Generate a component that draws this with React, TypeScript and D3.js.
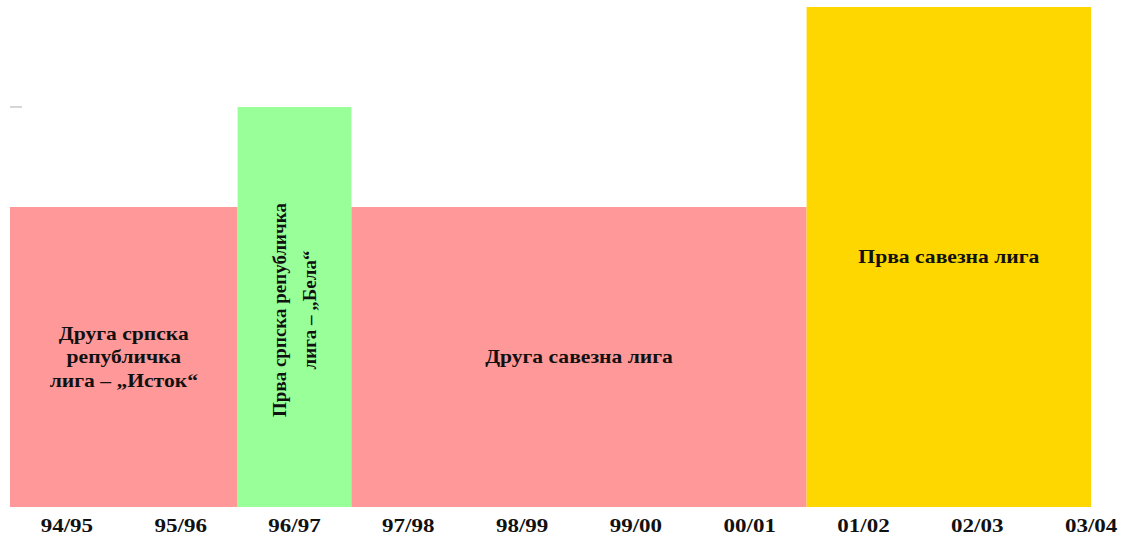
import React, { useEffect, useRef } from 'react';
import { select, scaleLinear } from 'd3';

const seasons = ['94/95', '95/96', '96/97', '97/98', '98/99', '99/00', '00/01', '01/02', '02/03', '03/04'];
const leagueNames = [
  ['Друга српска', 'републичка', 'лига – „Исток“'],
  ['Прва српска републичка', 'лига – „Бела“'],
  ['Друга савезна лига'],
  ['Прва савезна лига'],
];
const leagueStart = [0, 2, 3, 7];
const leagueEnd = [2, 3, 7, 9.5];
const leagueLevel = [3, 4, 3, 5];
const leagueColor = ['#ff9999', '#99ff99', '#ff9999', '#ffd700'];
const verticalLabel = [false, true, false, false];

const serif = '"Liberation Serif", "Times New Roman", serif';

const renderChart = (svgNode) => {
  select(svgNode).selectAll('*').remove();
  const svg = select(svgNode);
  const width = 1144;
  const height = 540;
  const margin = { top: 7, right: 0, bottom: 33, left: 10 };
  const bandW = 113.8;

  const x = scaleLinear().domain([0, seasons.length]).range([margin.left, margin.left + bandW * seasons.length]);
  const y = scaleLinear().domain([0, 5]).range([height - margin.bottom, margin.top]);

  svg.append('rect').attr('width', width).attr('height', height).attr('fill', '#ffffff');

  // faint tick left over at the top-left
  svg.append('line')
    .attr('x1', x(0)).attr('x2', x(0) + 12)
    .attr('y1', y(4)).attr('y2', y(4))
    .attr('stroke', '#c8c8c8').attr('stroke-width', 1.5);

  const bars = svg.append('g');
  leagueNames.forEach((names, i) => {
    bars.append('rect')
      .attr('x', x(leagueStart[i]))
      .attr('y', y(leagueLevel[i]))
      .attr('width', x(leagueEnd[i]) - x(leagueStart[i]))
      .attr('height', y(0) - y(leagueLevel[i]))
      .attr('fill', leagueColor[i]);

    const cx = (x(leagueStart[i]) + x(leagueEnd[i])) / 2;
    const cy = y(leagueLevel[i] / 2);
    const vertical = verticalLabel[i];
    const step = vertical ? 30 : 23.5;
    const t = bars.append('text')
      .attr('transform', vertical
        ? `translate(${cx},${cy + 3}) rotate(-90)`
        : `translate(${cx},${cy}) scale(1.2,1)`)
      .attr('text-anchor', 'middle')
      .attr('font-family', serif)
      .attr('font-weight', 'bold')
      .attr('font-size', vertical ? 19 : 18)
      .attr('fill', '#111');
    names.forEach((n, j) => {
      t.append('tspan')
        .attr('x', 0)
        .attr('y', (j - (names.length - 1) / 2) * step)
        .attr('dy', '0.35em')
        .text(n);
    });
  });

  const axis = svg.append('g');
  seasons.forEach((s, i) => {
    axis.append('text')
      .attr('transform', `translate(${x(i + 0.5)},532) scale(1.28,1)`)
      .attr('text-anchor', 'middle')
      .attr('font-family', serif)
      .attr('font-weight', 'bold')
      .attr('font-size', 18)
      .attr('fill', '#111')
      .text(s);
  });
};

export default function App() {
  const ref = useRef(null);
  useEffect(() => {
    renderChart(ref.current);
  }, []);
  return (
    <svg ref={ref} width={1144} height={540} style={{ position: 'absolute', left: 0, top: 0 }} />
  );
}
